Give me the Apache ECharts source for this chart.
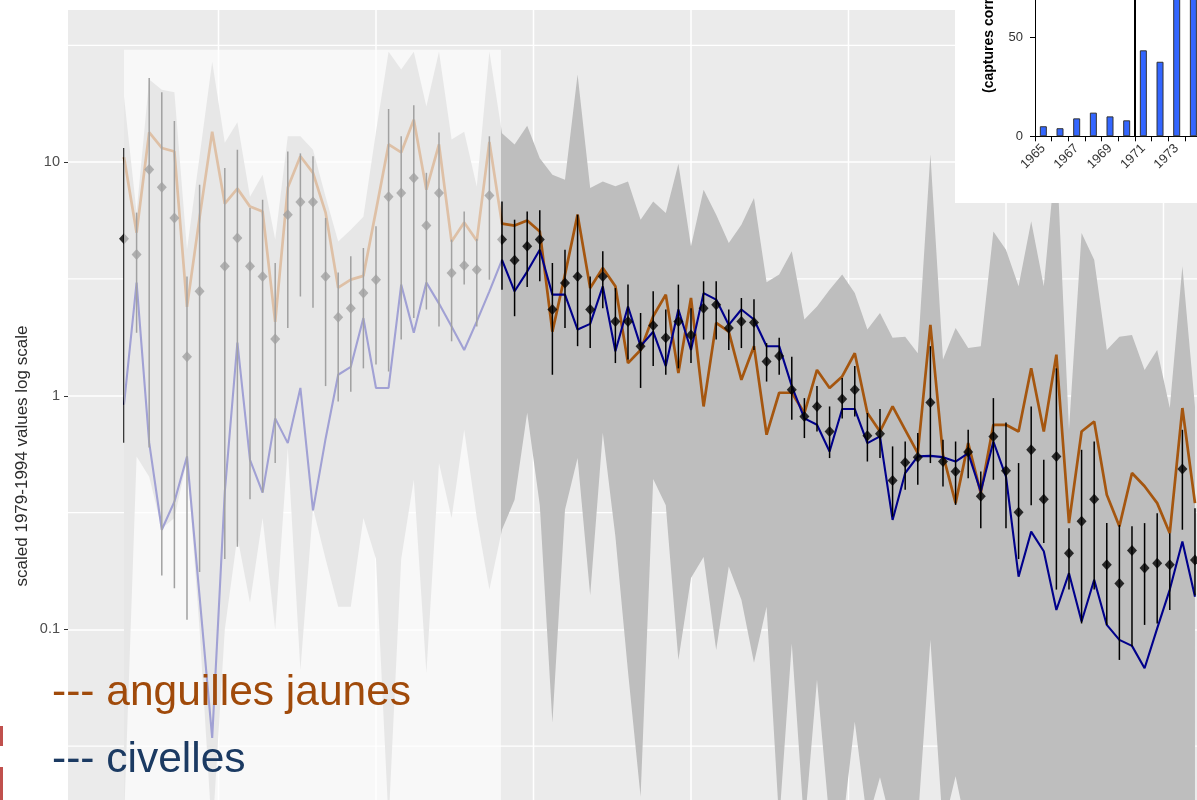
<!DOCTYPE html>
<html><head><meta charset="utf-8">
<script src="https://cdn.jsdelivr.net/npm/echarts@6/dist/echarts.min.js"></script>
<style>html,body{margin:0;padding:0;background:#fff;overflow:hidden}#c{width:1197px;height:800px}</style>
</head><body><div id="c"></div>
<script>
const years = [1930,1931,1932,1933,1934,1935,1936,1937,1938,1939,
1940,1941,1942,1943,1944,1945,1946,1947,1948,1949,
1950,1951,1952,1953,1954,1955,1956,1957,1958,1959,
1960,1961,1962,1963,1964,1965,1966,1967,1968,1969,
1970,1971,1972,1973,1974,1975,1976,1977,1978,1979,
1980,1981,1982,1983,1984,1985,1986,1987,1988,1989,
1990,1991,1992,1993,1994,1995,1996,1997,1998,1999,
2000,2001,2002,2003,2004,2005,2006,2007,2008,2009,
2010,2011,2012,2013,2014,2015];

const yellowEel = [10.5,4.99,13.4,11.5,11.1,2.40,5.8,13.5,6.64,7.7,
6.45,6.14,2.07,7.78,10.6,9.0,6.08,2.9,3.14,3.26,
6.2,11.9,11.0,15.2,7.62,11.9,4.57,5.51,4.61,12.2,
5.45,5.35,5.63,5.05,1.88,3.3,5.96,2.89,3.52,2.94,
1.38,1.57,2.19,2.71,1.25,2.62,0.90,2.05,1.88,1.17,
1.63,0.681,1.03,1.03,0.843,1.29,1.08,1.21,1.52,0.843,
0.703,0.90,0.715,0.568,2.01,0.559,0.347,0.627,0.383,0.751,
0.751,0.703,1.31,0.703,1.5,0.285,0.703,0.776,0.377,0.276,
0.467,0.41,0.347,0.258,0.886,0.347];

const glassEel = [0.915,3.05,0.63,0.267,0.352,0.55,0.138,0.0343,0.388,1.69,
0.532,0.385,0.80,0.627,1.08,0.323,0.655,1.23,1.33,2.15,
1.08,1.08,2.99,1.86,3.05,2.48,1.98,1.57,2.08,2.8,
3.82,2.80,3.4,4.22,2.71,2.71,1.92,2.03,2.94,1.55,
2.41,1.63,1.88,1.34,2.34,1.57,2.75,2.58,2.01,2.34,
2.12,1.63,1.63,1.10,0.80,0.751,0.577,0.877,0.877,0.627,
0.67,0.294,0.467,0.55,0.553,0.546,0.523,0.568,0.389,0.637,
0.451,0.168,0.262,0.216,0.121,0.174,0.108,0.163,0.1045,0.0902,
0.085,0.0682,0.101,0.148,0.238,0.138];

const indexVal = [4.70,4.02,9.29,7.8,5.77,1.47,2.80,null,3.58,4.73,
3.58,3.24,1.75,5.96,6.75,6.75,3.24,2.17,2.37,2.75,
3.14,7.1,7.38,8.55,5.35,7.38,3.35,3.61,3.46,7.19,
4.66,3.80,4.36,4.66,2.34,3.04,3.24,2.34,3.24,2.08,
2.08,1.63,2.0,1.77,2.08,1.82,2.37,2.45,1.95,2.08,
2.06,1.40,1.48,1.06,0.816,0.90,0.703,0.968,1.06,0.674,
0.688,0.434,0.518,0.546,0.936,0.523,0.474,0.574,0.371,0.67,
0.477,0.317,0.587,0.361,0.55,0.212,0.29,0.361,0.189,0.157,
0.2175,0.183,0.192,0.189,0.486,0.198];

const errLow = [0.63,1.86,0.60,0.17,0.15,0.11,0.176,null,0.2,0.226,
0.361,0.385,0.515,1.95,2.66,2.38,1.10,0.946,1.04,1.31,
1.36,1.27,1.74,2.15,2.34,1.98,1.71,2.99,1.98,3.14,
2.84,2.19,2.92,3.09,1.23,1.95,1.63,1.6,2.37,1.38,
1.43,1.08,1.34,1.23,1.31,1.38,1.74,1.74,1.57,1.6,
1.57,1.15,1.23,0.789,0.659,0.703,0.541,0.80,0.816,0.523,
0.541,0.304,0.396,0.416,0.515,0.409,0.341,0.444,0.271,0.437,
0.271,0.2,0.34,0.234,0.148,0.148,0.106,0.148,0.1045,0.074,
0.0844,0.1045,0.106,0.121,0.267,0.14];

const errHigh = [11.5,6.08,22.9,19.9,15.0,3.24,8.0,null,9.44,11.3,
6.37,6.91,3.70,11.1,10.9,10.6,5.77,3.37,3.95,4.29,
5.31,16.9,12.9,17.5,9.0,13.4,4.66,6.15,4.7,12.9,
6.79,5.67,6.15,6.22,3.70,4.22,5.96,3.24,4.15,2.89,
2.99,2.26,2.80,2.34,2.99,2.37,3.09,3.09,2.34,2.62,
2.59,1.68,1.77,1.47,0.977,1.10,0.90,1.19,1.34,0.843,
0.877,0.607,0.637,0.692,1.63,0.648,0.637,0.715,0.474,0.977,
0.769,0.515,0.90,0.532,1.31,0.271,0.587,0.637,0.285,0.28,
0.276,0.285,0.314,0.258,0.715,0.33];

const ribbonHigh = [19.1,6.08,22.6,20.4,19.9,4.22,10.6,26.9,12.1,14.8,
7.11,8.84,4.66,12.9,12.9,11.3,7.1,4.57,5.14,5.84,
13.5,29.7,24.9,29.7,17.3,29.7,12.5,13.5,7.85,29.7,
13.3,11.9,14.3,10.4,8.84,8.41,23.7,7.75,8.27,7.88,
8.27,5.67,6.79,6.06,9.85,4.36,7.62,5.96,4.51,5.4,
7.03,3.06,3.30,4.15,2.12,2.41,2.84,3.30,2.75,1.92,
2.26,1.77,1.79,1.52,10.8,1.43,1.95,1.6,1.63,5.05,
4.22,2.94,5.58,2.94,11.3,0.715,4.97,3.82,1.57,1.79,
1.82,1.29,1.57,0.886,3.58,0.90];

const ribbonLow = [0.015,0.55,0.45,0.27,0.3,0.53,0.1,0.013,0.1,0.25,
0.13,0.3,0.1,0.6,0.067,0.33,0.2,0.125,0.125,0.30,
0.2,0.015,0.2,0.437,0.065,0.516,0.30,0.715,0.3,0.148,
0.267,0.359,0.845,0.341,0.0398,0.325,0.542,0.14,0.695,0.25,
0.066,0.0192,0.44,0.34,0.074,0.166,0.204,0.0817,0.186,0.134,
0.0719,0.125,0.015,0.087,0.014,0.0608,0.015,0.014,0.0402,0.015,
0.0233,0.014,0.013,0.015,0.0902,0.014,0.0235,0.013,0.014,0.013,
0.014,0.013,0.014,0.013,0.014,0.013,0.014,0.013,0.014,0.013,
0.014,0.013,0.014,0.013,0.014,0.013];

const yTicksMajor = [0.1, 1, 10];
const yGridMinor = [31.62, 3.162, 0.3162, 0.03162];
const xGridYears = [1937.5, 1950, 1962.5, 1975, 1987.5, 2000, 2012.5];

// inset
const inYears = ['1965','1966','1967','1968','1969','1970','1971','1972','1973','1974'];
const inValues = [5.1, 4.1, 9.1, 12.0, 10.1, 8.1, 43.6, 37.8, 82, 88];
const inSeparatorAfter = '1970';

const X_MIN = 1925.556, X_MAX = 2015.16, Y_MIN = 0.01, Y_MAX = 100;
const PANEL_TOP = 45;
const SHADE_FROM = 1930, SHADE_TO = 1959.92, SHADE_TOP = 30.3;

const ORANGE = '#a5560f', BLUE = '#00008b';
const FONT = 'Liberation Sans';

const chart = echarts.init(document.getElementById('c'), null, {renderer: 'canvas'});

const option = {
  animation: false,
  textStyle: {fontFamily: FONT},
  grid: [
    {left: 68, right: 0, top: -71.5, bottom: -63, containLabel: false, outerBoundsMode: 'none'},
    {left: 1035, top: -60.9, width: 166.7, height: 197.2, containLabel: false, outerBoundsMode: 'none'}
  ],
  xAxis: [
    {type: 'value', gridIndex: 0, min: X_MIN, max: X_MAX, show: false},
    {type: 'category', gridIndex: 1, data: inYears, z: 60,
      axisLine: {show: true, lineStyle: {color: '#000', width: 1}},
      axisTick: {show: true, interval: 0, length: 5, lineStyle: {color: '#000'}},
      axisLabel: {interval: 1, rotate: 45, fontSize: 13, color: '#333', margin: 10, fontFamily: FONT},
      splitLine: {show: false}}
  ],
  yAxis: [
    {type: 'log', logBase: 10, gridIndex: 0, min: Y_MIN, max: Y_MAX,
      axisLine: {show: false},
      axisTick: {show: true, length: 4, lineStyle: {color: '#333', width: 1}},
      axisLabel: {color: '#4d4d4d', fontSize: 14.5, margin: 8, fontFamily: FONT,
        formatter: function (v) { return yTicksMajor.indexOf(+v) >= 0 ? String(v) : ''; }},
      splitLine: {show: true, lineStyle: {color: '#ffffff', width: 1.6}},
      minorTick: {show: false}, minorSplitLine: {show: false}},
    {type: 'value', gridIndex: 1, min: 0, max: 100, interval: 50, z: 60,
      axisLine: {show: true, lineStyle: {color: '#000', width: 1}},
      axisTick: {show: true, length: 5, lineStyle: {color: '#000'}},
      axisLabel: {fontSize: 13, color: '#333', margin: 12, fontFamily: FONT},
      splitLine: {show: false}}
  ],
  graphic: [
    {type: 'rect', z: -10, silent: true, shape: {x: 68, y: 10, width: 1129, height: 790}, style: {fill: '#ebebeb'}},
    {type: 'rect', z: 50, silent: true, shape: {x: 955, y: 0, width: 242, height: 203}, style: {fill: '#ffffff'}},
    {type: 'text', z: 62, silent: true, x: 989, y: 93, rotation: Math.PI / 2,
      style: {text: '(captures corrigées)', fontSize: 14, fontWeight: 'bold', fontFamily: FONT, fill: '#000', align: 'left', verticalAlign: 'middle'}},
    {type: 'text', z: 20, silent: true, x: 22, y: 456, rotation: Math.PI / 2,
      style: {text: 'scaled 1979-1994 values log scale', fontSize: 17, fontFamily: FONT, fill: '#2b2b2b', align: 'center', verticalAlign: 'middle'}},
    {type: 'text', z: 70, silent: true, x: 52, y: 693,
      style: {text: '--- anguilles jaunes', fontSize: 42.5, fontFamily: FONT, fill: '#a04a0a', align: 'left', verticalAlign: 'middle'}},
    {type: 'text', z: 70, silent: true, x: 52, y: 760,
      style: {text: '--- civelles', fontSize: 42.5, fontFamily: FONT, fill: '#1b3a62', align: 'left', verticalAlign: 'middle'}},
    {type: 'rect', z: 70, silent: true, shape: {x: 0, y: 726, width: 3, height: 20}, style: {fill: '#c0504d'}},
    {type: 'rect', z: 70, silent: true, shape: {x: 0, y: 767, width: 3, height: 33}, style: {fill: '#c0504d'}}
  ],
  series: [
    {type: 'custom', z: 1, silent: true, xAxisIndex: 0, yAxisIndex: 0,
      data: yGridMinor.map(v => [X_MIN, v]),
      renderItem: function (params, api) {
        const v = api.value(1);
        const a = api.coord([X_MIN, v]), b = api.coord([X_MAX, v]);
        return {type: 'line', shape: {x1: a[0], y1: a[1], x2: b[0], y2: b[1]}, style: {stroke: '#fff', lineWidth: 1.2}};
      }},
    {type: 'custom', z: 1, silent: true, xAxisIndex: 0, yAxisIndex: 0,
      data: xGridYears.map(y => [y, PANEL_TOP]),
      renderItem: function (params, api) {
        const x = api.value(0);
        const a = api.coord([x, PANEL_TOP]), b = api.coord([x, Y_MIN]);
        return {type: 'line', shape: {x1: a[0], y1: a[1], x2: b[0], y2: b[1]}, style: {stroke: '#fff', lineWidth: 1.5}};
      }},
    {type: 'custom', z: 2, silent: true, xAxisIndex: 0, yAxisIndex: 0,
      data: [[years[0], ribbonHigh[0]]],
      renderItem: function (params, api) {
        const pts = [];
        for (let i = 0; i < years.length; i++) pts.push(api.coord([years[i], ribbonHigh[i]]));
        for (let i = years.length - 1; i >= 0; i--) pts.push(api.coord([years[i], ribbonLow[i]]));
        return {type: 'polygon', shape: {points: pts}, style: {fill: '#bebebe'}};
      }},
    {type: 'line', name: 'anguilles jaunes', z: 3, silent: true, xAxisIndex: 0, yAxisIndex: 0,
      data: years.map((y, i) => [y, yellowEel[i]]), showSymbol: false, symbol: 'none',
      lineStyle: {color: ORANGE, width: 2.7}},
    {type: 'line', name: 'civelles', z: 3, silent: true, xAxisIndex: 0, yAxisIndex: 0,
      data: years.map((y, i) => [y, glassEel[i]]), showSymbol: false, symbol: 'none',
      lineStyle: {color: BLUE, width: 2.1}},
    {type: 'custom', z: 4, silent: true, xAxisIndex: 0, yAxisIndex: 0,
      data: years.map((y, i) => errLow[i] == null ? null : [y, errLow[i], errHigh[i]]).filter(d => d),
      renderItem: function (params, api) {
        const x = api.value(0);
        const a = api.coord([x, api.value(1)]), b = api.coord([x, api.value(2)]);
        return {type: 'line', shape: {x1: a[0], y1: a[1], x2: b[0], y2: b[1]}, style: {stroke: '#000', lineWidth: 1.5}};
      }},
    {type: 'scatter', z: 5, silent: true, xAxisIndex: 0, yAxisIndex: 0,
      data: years.map((y, i) => [y, indexVal[i]]).filter(d => d[1] != null),
      symbol: 'diamond', symbolSize: [10, 11], itemStyle: {color: '#000'}},
    {type: 'custom', z: 8, silent: true, xAxisIndex: 0, yAxisIndex: 0,
      data: [[SHADE_FROM, SHADE_TOP]],
      renderItem: function (params, api) {
        const a = api.coord([SHADE_FROM, SHADE_TOP]), b = api.coord([SHADE_TO, Y_MIN]);
        return {type: 'rect', shape: {x: a[0], y: a[1], width: b[0] - a[0], height: b[1] - a[1]}, style: {fill: 'rgba(255,255,255,0.63)'}};
      }},
    {type: 'bar', z: 60, silent: true, xAxisIndex: 1, yAxisIndex: 1,
      data: inValues, barWidth: 7,
      itemStyle: {color: '#3366ff', borderColor: '#333', borderWidth: 1}},
    {type: 'custom', z: 61, silent: true, xAxisIndex: 1, yAxisIndex: 1,
      data: [[inYears.indexOf(inSeparatorAfter), 0]],
      renderItem: function (params, api) {
        const idx = api.value(0);
        const c = api.coord([idx, 0]);
        const top = api.coord([idx, 100]);
        const w = api.size([1, 0])[0];
        const x = c[0] + w / 2;
        return {type: 'line', shape: {x1: x, y1: c[1], x2: x, y2: top[1]}, style: {stroke: '#000', lineWidth: 2}};
      }}
  ]
};
chart.setOption(option);
</script>
</body></html>
